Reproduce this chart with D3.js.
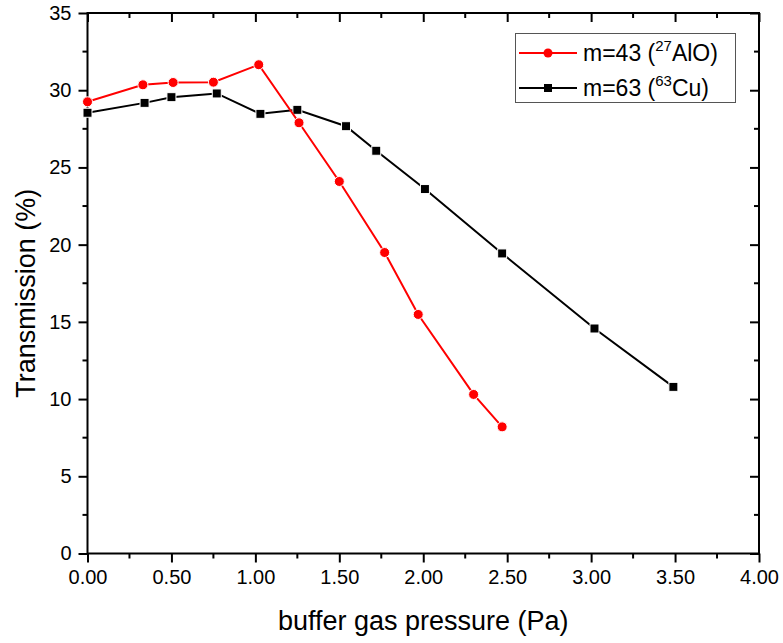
<!DOCTYPE html>
<html><head><meta charset="utf-8">
<script src="https://cdn.jsdelivr.net/npm/d3@7"></script>
<style>body{margin:0;background:#fff}svg{display:block}text{font-family:"Liberation Sans",Arial,sans-serif}</style>
</head><body><svg id="c" width="783" height="643"></svg>
<script>
const alo_x = [0.00, 0.33, 0.51, 0.75, 1.02, 1.26, 1.50, 1.77, 1.97, 2.30, 2.47];
const alo_y = [29.25, 30.35, 30.50, 30.52, 31.65, 27.89, 24.09, 19.49, 15.48, 10.30, 8.20];
const cu_x = [0.00, 0.34, 0.50, 0.77, 1.03, 1.25, 1.54, 1.72, 2.01, 2.47, 3.02, 3.49];
const cu_y = [28.54, 29.18, 29.55, 29.79, 28.47, 28.73, 27.67, 26.08, 23.60, 19.43, 14.57, 10.79];
const xTicks = [0, 0.5, 1, 1.5, 2, 2.5, 3, 3.5, 4];
const yTicks = [0, 5, 10, 15, 20, 25, 30, 35];
const xTitle = "buffer gas pressure (Pa)";
const yTitle = "Transmission (%)";

const svg = d3.select("#c");
const L = 87.5, R = 759, T = 13, B = 553.5;
const x = d3.scaleLinear().domain([0, 4]).range([L, R]);
const y = d3.scaleLinear().domain([0, 35]).range([B, T]);
const xMinor = d3.range(0.25, 4, 0.5);
const yMinor = d3.range(2.5, 35, 5);

svg.append("rect").attr("x", L).attr("y", T).attr("width", R - L).attr("height", B - T)
  .attr("fill", "none").attr("stroke", "#000").attr("stroke-width", 2);

const ax = {b: d3.axisBottom(x), t: d3.axisTop(x), l: d3.axisLeft(y), r: d3.axisRight(y)};
function axis(g, gen, ticks, minor, inward, fmt, labels) {
  gen.tickValues(ticks).tickSize(inward ? -9 : 9).tickPadding(7).tickFormat(labels ? fmt : "");
  g.call(gen);
  g.select(".domain").remove();
  g.selectAll(".tick line").attr("stroke-width", 2);
  g.selectAll(".tick text").attr("font-size", 20).attr("fill", "#000");
  const m = gen.scale();
  g.selectAll(".minor").data(minor).join("line").attr("class", "minor")
    .each(function(d) {
      const s = inward ? -5 : 5;
      const el = d3.select(this);
      if (gen === ax.b || gen === ax.t) el.attr("x1", m(d)).attr("x2", m(d)).attr("y1", 0).attr("y2", (gen === ax.t ? -1 : 1) * s);
      else el.attr("y1", m(d)).attr("y2", m(d)).attr("x1", 0).attr("x2", (gen === ax.l ? -1 : 1) * s);
    })
    .attr("stroke", "#000").attr("stroke-width", 2);
}
axis(svg.append("g").attr("transform", `translate(0,${B})`), ax.b, xTicks, xMinor, false, d3.format(".2f"), true);
axis(svg.append("g").attr("transform", `translate(0,${T})`), ax.t, xTicks, xMinor, true, null, false);
axis(svg.append("g").attr("transform", `translate(${L},0)`), ax.l, yTicks, yMinor, false, d3.format("d"), true);
axis(svg.append("g").attr("transform", `translate(${R},0)`), ax.r, yTicks, yMinor, true, null, false);

svg.append("text").attr("x", (L + R) / 2).attr("y", 630).attr("text-anchor", "middle")
  .attr("font-size", 27).text(xTitle);
svg.append("text").attr("transform", `translate(35,${(T + B) / 2 + 10}) rotate(-90)`).attr("text-anchor", "middle")
  .attr("font-size", 27).text(yTitle);

const line = d3.line().x(d => x(d[0])).y(d => y(d[1]));
const cu = cu_x.map((v, i) => [v, cu_y[i]]);
const alo = alo_x.map((v, i) => [v, alo_y[i]]);

svg.append("path").datum(cu).attr("d", line).attr("fill", "none").attr("stroke", "#000").attr("stroke-width", 2);
svg.selectAll(".cu").data(cu).join("rect").attr("class", "cu")
  .attr("x", d => x(d[0]) - 4.5).attr("y", d => y(d[1]) - 4.5).attr("width", 9).attr("height", 9)
  .attr("fill", "#000").attr("stroke", "#fff").attr("stroke-width", 1);
svg.append("path").datum(alo).attr("d", line).attr("fill", "none").attr("stroke", "#ff0000").attr("stroke-width", 2);
svg.selectAll(".alo").data(alo).join("circle").attr("class", "alo")
  .attr("cx", d => x(d[0])).attr("cy", d => y(d[1])).attr("r", 5)
  .attr("fill", "#ff0000").attr("stroke", "#fff").attr("stroke-width", 1);

const lg = svg.append("g");
lg.append("rect").attr("x", 515.5).attr("y", 33.5).attr("width", 220).attr("height", 69)
  .attr("fill", "#fff").attr("stroke", "#555").attr("stroke-width", 1);
const items = [
  {c: "#ff0000", sym: "circle", pre: "m=43 (", sup: "27", post: "AlO)", yy: 53},
  {c: "#000", sym: "square", pre: "m=63 (", sup: "63", post: "Cu)", yy: 88}
];
items.forEach(it => {
  lg.append("line").attr("x1", 519).attr("x2", 577).attr("y1", it.yy).attr("y2", it.yy).attr("stroke", it.c).attr("stroke-width", 2);
  if (it.sym === "circle") lg.append("circle").attr("cx", 548).attr("cy", it.yy).attr("r", 4.5).attr("fill", it.c);
  else lg.append("rect").attr("x", 544).attr("y", it.yy - 4).attr("width", 8).attr("height", 8).attr("fill", it.c);
  const t = lg.append("text").attr("x", 583).attr("y", it.yy + 8).attr("font-size", 23);
  t.append("tspan").text(it.pre);
  t.append("tspan").attr("font-size", 15).attr("dy", -10).text(it.sup);
  t.append("tspan").attr("dy", 10).text(it.post);
});
</script></body></html>
